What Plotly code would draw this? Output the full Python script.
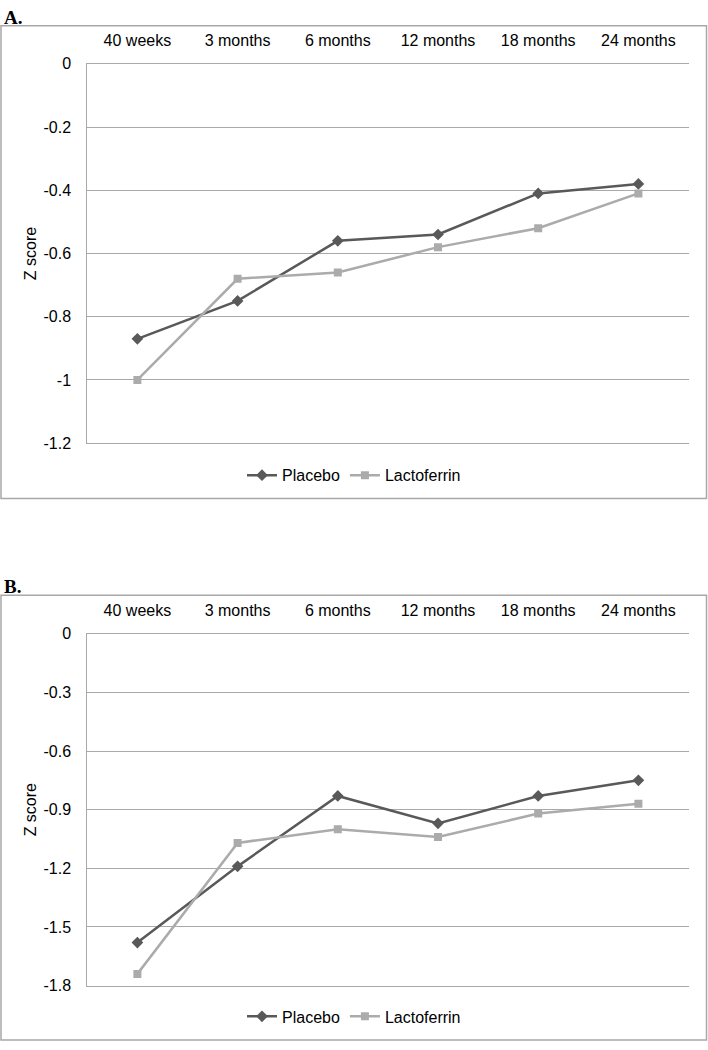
import plotly.graph_objects as go

categories = ["40 weeks", "3 months", "6 months", "12 months", "18 months", "24 months"]

# Panel A
a_placebo = [-0.87, -0.75, -0.56, -0.54, -0.41, -0.38]
a_lactoferrin = [-1.00, -0.68, -0.66, -0.58, -0.52, -0.41]
a_ticks = [0, -0.2, -0.4, -0.6, -0.8, -1.0, -1.2]
a_ticklabels = ["0", "-0.2", "-0.4", "-0.6", "-0.8", "-1", "-1.2"]

# Panel B
b_placebo = [-1.58, -1.19, -0.83, -0.97, -0.83, -0.75]
b_lactoferrin = [-1.74, -1.07, -1.00, -1.04, -0.92, -0.87]
b_ticks = [0, -0.3, -0.6, -0.9, -1.2, -1.5, -1.8]
b_ticklabels = ["0", "-0.3", "-0.6", "-0.9", "-1.2", "-1.5", "-1.8"]

W, H = 708, 1050
FONT = "Liberation Sans, Arial, sans-serif"
DARK = "#595959"
LIGHT = "#ababab"
GRID = "#a9a9a9"
BOX = "#a8a8a8"

def px_x(p):
    return p / W

def px_y(p):
    return 1 - p / H

fig = go.Figure()

def add_series(xa, ya, leg, placebo, lacto):
    fig.add_trace(go.Scatter(
        x=categories, y=placebo, name="Placebo", mode="lines+markers",
        line=dict(color=DARK, width=2.5),
        marker=dict(symbol="diamond", size=9, color=DARK),
        xaxis=xa, yaxis=ya, legend=leg))
    fig.add_trace(go.Scatter(
        x=categories, y=lacto, name="Lactoferrin", mode="lines+markers",
        line=dict(color=LIGHT, width=2.5),
        marker=dict(symbol="square", size=8, color=LIGHT),
        xaxis=xa, yaxis=ya, legend=leg))

add_series("x", "y", "legend", a_placebo, a_lactoferrin)
add_series("x2", "y2", "legend2", b_placebo, b_lactoferrin)

xdom = [px_x(87.3), px_x(688.5)]
common_x = dict(
    type="category", categoryorder="array", categoryarray=categories,
    range=[-0.5, 5.5], side="top", showgrid=False, zeroline=False,
    showline=True, mirror=True, linecolor=GRID, linewidth=1,
    ticks="", tickfont=dict(family=FONT, size=16, color="#000"),
    ticklabelstandoff=10, fixedrange=True,
)
common_y = dict(
    showgrid=True, gridcolor=GRID, gridwidth=1,
    zeroline=True, zerolinecolor=GRID, zerolinewidth=1,
    showline=True, linecolor=GRID, linewidth=1, ticks="",
    tickfont=dict(family=FONT, size=16, color="#000"),
    ticklabelstandoff=12, fixedrange=True,
    title=dict(text="Z score", font=dict(family=FONT, size=16, color="#000"), standoff=2),
)

fig.update_layout(
    width=W, height=H,
    margin=dict(l=0, r=0, t=0, b=0),
    paper_bgcolor="white", plot_bgcolor="white",
    hovermode=False,
    font=dict(family=FONT, size=16, color="#000"),
    xaxis=dict(domain=xdom, anchor="y", **common_x),
    yaxis=dict(domain=[px_y(442.3), px_y(56.7)], anchor="x",
               range=[-1.2, 0], tickvals=a_ticks, ticktext=a_ticklabels, **common_y),
    xaxis2=dict(domain=xdom, anchor="y2", **common_x),
    yaxis2=dict(domain=[px_y(993.7), px_y(636)], anchor="x2",
                range=[-1.8, 0], tickvals=b_ticks, ticktext=b_ticklabels, **common_y),
    legend=dict(orientation="h", x=0.5, xanchor="center", y=px_y(475), yanchor="middle",
                font=dict(family=FONT, size=16, color="#000"), itemwidth=30,
                bgcolor="rgba(0,0,0,0)", traceorder="normal"),
    legend2=dict(orientation="h", x=0.5, xanchor="center", y=px_y(1025), yanchor="middle",
                 font=dict(family=FONT, size=16, color="#000"), itemwidth=30,
                 bgcolor="rgba(0,0,0,0)", traceorder="normal"),
    shapes=[
        dict(type="rect", xref="paper", yref="paper",
             x0=px_x(1), x1=px_x(706.5), y0=px_y(498.5), y1=px_y(18),
             line=dict(color=BOX, width=1.5), fillcolor="rgba(0,0,0,0)", layer="below"),
        dict(type="rect", xref="paper", yref="paper",
             x0=px_x(1), x1=px_x(706.5), y0=px_y(1049), y1=px_y(597),
             line=dict(color=BOX, width=1.5), fillcolor="rgba(0,0,0,0)", layer="below"),
    ],
    annotations=[
        dict(text="<b>A.</b>", xref="paper", yref="paper", x=px_x(2), y=px_y(10),
             xanchor="left", yanchor="middle", showarrow=False,
             font=dict(family="Liberation Serif, Times New Roman, serif", size=19, color="#000")),
        dict(text="<b>B.</b>", xref="paper", yref="paper", x=px_x(2), y=px_y(588),
             xanchor="left", yanchor="middle", showarrow=False,
             font=dict(family="Liberation Serif, Times New Roman, serif", size=19, color="#000")),
    ],
)

fig.write_html("out.html", config={"displayModeBar": False},
               post_script="document.body.style.margin='0';")
